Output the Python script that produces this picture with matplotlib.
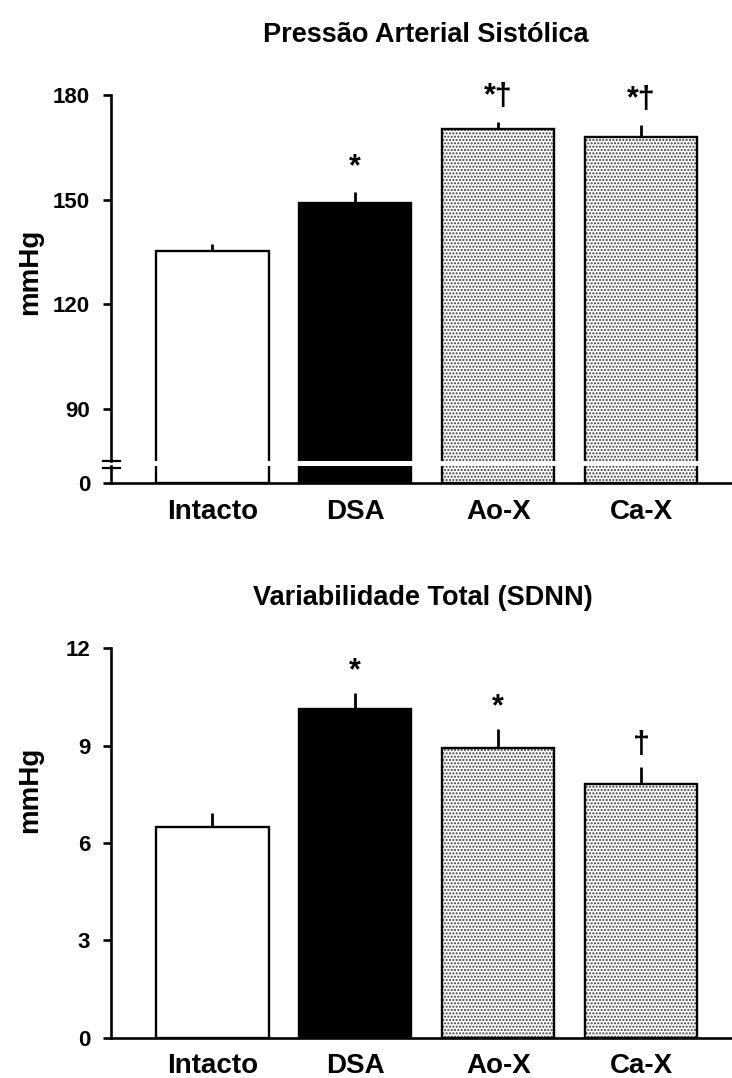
import matplotlib
matplotlib.use("Agg")
import matplotlib.pyplot as plt
import numpy as np

plt.rcParams['font.family'] = ['Liberation Sans', 'DejaVu Sans']
plt.rcParams['font.weight'] = 'bold'

categories = ["Intacto", "DSA", "Ao-X", "Ca-X"]

# Top panel: systolic pressure (mmHg)
pas_mean = [135.2, 149.1, 170.2, 168.0]
pas_sem = [2.2, 3.1, 2.1, 3.3]
pas_marks = ["", "*", "*†", "*†"]
pas_ticks = [90, 120, 150, 180]

# Bottom panel: SDNN (mmHg)
sdnn_mean = [6.5, 10.12, 8.92, 7.81]
sdnn_sem = [0.41, 0.5, 0.59, 0.52]
sdnn_marks = ["", "*", "*", "†"]
sdnn_ticks = [0, 3, 6, 9, 12]

W, H = 732, 1078
fig = plt.figure(figsize=(W / 100, H / 100), dpi=100)

def fx(px):
    return px / W

def fy(py):
    return 1 - py / H

LEFT, RIGHT = 111, 731
x = np.arange(len(categories))
xlim = (-0.708, 3.628)
bw = 0.787
fills = ['white', 'black', 'white', 'white']
hatches = [None, None, '.....', '.....']
SP_LW = 1.9
BAR_LW = 1.7
TICKFS = 16
LBLFS = 20
TITLEFS = 19.5
YLABFS = 20


def draw_bars(ax, vals, with_err=None):
    for i, v in enumerate(vals):
        if hatches[i]:
            ax.bar(x[i], v, bw, color='white', edgecolor='#3a3a3a',
                   hatch=hatches[i], linewidth=0, zorder=2)
            ax.bar(x[i], v, bw, fill=False, edgecolor='black',
                   linewidth=BAR_LW, zorder=3)
        else:
            ax.bar(x[i], v, bw, color=fills[i], edgecolor='black',
                   linewidth=BAR_LW, zorder=3)
    if with_err is not None:
        ax.errorbar(x, vals, yerr=[np.zeros(len(vals)), with_err], fmt='none',
                    ecolor='black', elinewidth=2, capsize=0, zorder=1)


def style(ax):
    for s in ['top', 'right']:
        ax.spines[s].set_visible(False)
    ax.spines['left'].set_linewidth(SP_LW)
    ax.spines['bottom'].set_linewidth(SP_LW)
    ax.tick_params(axis='y', length=6, width=SP_LW, pad=9, labelsize=TICKFS)
    ax.tick_params(axis='x', length=0, pad=11, labelsize=LBLFS)
    ax.set_xlim(*xlim)
    for lab in ax.get_yticklabels() + ax.get_xticklabels():
        lab.set_fontweight('bold')


# ---------- Top panel ----------
ax_hi = fig.add_axes([fx(LEFT), fy(460.7), fx(RIGHT - LEFT), fy(94.8) - fy(460.7)])
ax_lo = fig.add_axes([fx(LEFT), fy(483.3), fx(RIGHT - LEFT), fy(466) - fy(483.3)])

draw_bars(ax_hi, pas_mean, pas_sem)
ax_hi.set_ylim(75.2, 180)
ax_hi.set_yticks(pas_ticks)
ax_hi.set_xticks([])
style(ax_hi)
ax_hi.spines['bottom'].set_visible(False)

draw_bars(ax_lo, pas_mean)
ax_lo.set_ylim(0, 1)
ax_lo.set_yticks([0])
ax_lo.set_xticks(x)
ax_lo.set_xticklabels(categories)
style(ax_lo)

# break marks
for py in (460.7, 467.5):
    fig.add_artist(plt.Line2D([fx(103), fx(120)], [fy(py), fy(py)],
                              color='black', lw=1.6, transform=fig.transFigure))

for i, m in enumerate(pas_marks):
    if m:
        ax_hi.annotate(m, (x[i], pas_mean[i] + pas_sem[i]), xytext=(0, 7),
                       textcoords='offset points', ha='center', va='bottom',
                       fontsize=22, fontweight='bold', clip_on=False)

fig.text(fx(426), fy(35), "Pressão Arterial Sistólica", ha='center', va='center',
         fontsize=TITLEFS, fontweight='bold')
fig.text(fx(30), fy(272), "mmHg", rotation=90, ha='center', va='center',
         fontsize=YLABFS, fontweight='bold')

# ---------- Bottom panel ----------
ax2 = fig.add_axes([fx(LEFT), fy(1037.7), fx(RIGHT - LEFT), fy(648.3) - fy(1037.7)])
draw_bars(ax2, sdnn_mean, sdnn_sem)
ax2.set_ylim(0, 12)
ax2.set_yticks(sdnn_ticks)
ax2.set_xticks(x)
ax2.set_xticklabels(categories)
style(ax2)

for i, m in enumerate(sdnn_marks):
    if m:
        ax2.annotate(m, (x[i], sdnn_mean[i] + sdnn_sem[i]), xytext=(0, 5),
                     textcoords='offset points', ha='center', va='bottom',
                     fontsize=22, fontweight='bold', clip_on=False)

fig.text(fx(423), fy(598), "Variabilidade Total (SDNN)", ha='center', va='center',
         fontsize=TITLEFS, fontweight='bold')
fig.text(fx(30), fy(790), "mmHg", rotation=90, ha='center', va='center',
         fontsize=YLABFS, fontweight='bold')

fig.savefig("out.png", dpi=100)
